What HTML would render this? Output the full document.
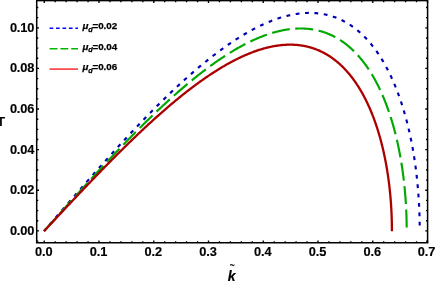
<!DOCTYPE html><html><head><meta charset="utf-8"><style>
html,body{margin:0;padding:0;background:#fff}
#c{position:relative;width:436px;height:284px;overflow:hidden;background:#fff;font-family:"Liberation Sans",sans-serif;font-weight:bold;color:#000}
.t{position:absolute;font-size:12.8px;line-height:14px;letter-spacing:-0.12px;white-space:nowrap;-webkit-text-stroke:0.15px #000}
.xl{width:40px;margin-left:-20px;text-align:center;top:245.3px}
.yl{right:401.7px;text-align:right}
.lg{left:82.4px;font-size:9.8px;line-height:10px;letter-spacing:-0.08px;-webkit-text-stroke:0.25px #000}
.lg i{font-style:italic}.lg sub{font-size:7.3px;font-style:italic;vertical-align:baseline;position:relative;top:2.6px}
</style></head><body><div id="c">
<svg width="436" height="284" viewBox="0 0 436 284" style="position:absolute;left:0;top:0">
<path d="M44.25,230.90 L45.23,229.76 L46.22,228.61 L47.20,227.47 L48.19,226.33 L49.17,225.18 L50.16,224.04 L51.14,222.90 L52.13,221.76 L53.11,220.61 L54.10,219.47 L55.08,218.33 L56.06,217.19 L57.05,216.05 L58.03,214.91 L59.02,213.77 L60.00,212.63 L60.98,211.49 L61.97,210.35 L62.95,209.21 L63.93,208.08 L64.92,206.94 L65.90,205.80 L66.88,204.67 L67.87,203.53 L68.85,202.40 L69.83,201.27 L70.81,200.14 L71.79,199.00 L72.78,197.87 L73.76,196.74 L74.74,195.61 L75.72,194.49 L76.70,193.36 L77.68,192.23 L78.66,191.11 L79.64,189.99 L80.62,188.86 L81.60,187.74 L82.58,186.62 L83.56,185.50 L84.54,184.39 L85.52,183.27 L86.50,182.16 L87.48,181.04 L88.46,179.93 L89.43,178.82 L90.41,177.71 L91.39,176.60 L92.36,175.50 L93.34,174.39 L94.32,173.29 L95.29,172.18 L96.27,171.08 L97.24,169.99 L98.22,168.89 L99.19,167.79 L100.17,166.70 L101.14,165.61 L102.11,164.52 L103.08,163.43 L104.06,162.34 L105.03,161.26 L106.00,160.18 L106.97,159.10 L107.94,158.02 L108.91,156.94 L109.88,155.87 L110.85,154.80 L111.82,153.73 L112.79,152.66 L113.76,151.59 L114.72,150.53 L115.69,149.47 L116.66,148.41 L117.62,147.35 L118.59,146.30 L119.55,145.24 L120.52,144.19 L121.48,143.14 L122.44,142.10 L123.41,141.06 L124.37,140.02 L125.33,138.98 L126.29,137.94 L127.25,136.91 L128.21,135.88 L129.17,134.85 L130.13,133.83 L131.09,132.81 L132.05,131.79 L133.00,130.77 L133.96,129.75 L134.92,128.74 L135.87,127.73 L136.83,126.73 L137.78,125.73 L138.73,124.73 L139.69,123.73 L140.64,122.74 L141.59,121.74 L142.54,120.76 L143.49,119.77 L144.44,118.79 L145.39,117.81 L146.34,116.83 L147.28,115.86 L148.23,114.89 L149.17,113.93 L150.12,112.96 L151.06,112.00 L152.01,111.05 L152.95,110.09 L153.89,109.14 L154.83,108.20 L155.77,107.25 L156.71,106.31 L157.65,105.38 L158.59,104.44 L159.53,103.51 L160.47,102.59 L161.40,101.67 L162.34,100.75 L163.27,99.83 L164.20,98.92 L165.14,98.01 L166.07,97.11 L167.00,96.21 L167.93,95.31 L168.86,94.42 L169.79,93.53 L170.71,92.64 L171.64,91.76 L172.57,90.88 L173.49,90.01 L174.42,89.14 L175.34,88.27 L176.26,87.41 L177.18,86.55 L178.10,85.69 L179.02,84.84 L179.94,84.00 L180.86,83.15 L181.78,82.32 L182.69,81.48 L183.61,80.65 L184.52,79.82 L185.43,79.00 L186.34,78.18 L187.26,77.37 L188.17,76.56 L189.07,75.76 L189.98,74.96 L190.89,74.16 L191.80,73.37 L192.70,72.58 L193.60,71.79 L194.51,71.02 L195.41,70.24 L196.31,69.47 L197.21,68.70 L198.11,67.94 L199.01,67.19 L199.90,66.43 L200.80,65.68 L201.69,64.94 L202.59,64.20 L203.48,63.47 L204.37,62.74 L205.26,62.01 L206.15,61.29 L207.04,60.58 L207.92,59.87 L208.81,59.16 L209.69,58.46 L210.58,57.76 L211.46,57.07 L212.34,56.38 L213.22,55.70 L214.10,55.02 L214.98,54.35 L215.85,53.68 L216.73,53.02 L217.60,52.36 L218.47,51.70 L219.35,51.06 L220.22,50.41 L221.09,49.77 L221.95,49.14 L222.82,48.51 L223.69,47.89 L224.55,47.27 L225.41,46.66 L226.27,46.05 L227.14,45.44 L227.99,44.85 L228.85,44.25 L229.71,43.66 L230.56,43.08 L231.42,42.50 L232.27,41.93 L233.12,41.36 L233.97,40.80 L234.82,40.25 L235.67,39.69 L236.52,39.15 L237.36,38.61 L238.21,38.07 L239.05,37.54 L239.89,37.02 L240.73,36.50 L241.57,35.98 L242.40,35.47 L243.24,34.97 L244.07,34.47 L244.91,33.98 L245.74,33.49 L246.57,33.01 L247.40,32.53 L248.23,32.06 L249.05,31.59 L249.88,31.13 L250.70,30.68 L251.52,30.23 L252.34,29.79 L253.16,29.35 L253.98,28.91 L254.79,28.49 L255.61,28.07 L256.42,27.65 L257.23,27.24 L258.04,26.83 L258.85,26.44 L259.66,26.04 L260.46,25.65 L261.27,25.27 L262.07,24.90 L262.87,24.52 L263.67,24.16 L264.47,23.80 L265.27,23.45 L266.06,23.10 L266.86,22.76 L267.65,22.42 L268.44,22.09 L269.23,21.76 L270.02,21.44 L270.80,21.13 L271.59,20.82 L272.37,20.52 L273.15,20.22 L273.93,19.93 L274.71,19.65 L275.48,19.37 L276.26,19.10 L277.03,18.83 L277.80,18.57 L278.58,18.31 L279.34,18.06 L280.11,17.82 L280.88,17.58 L281.64,17.35 L282.40,17.12 L283.16,16.90 L283.92,16.69 L284.68,16.48 L285.43,16.27 L286.19,16.08 L286.94,15.89 L287.69,15.70 L288.44,15.52 L289.19,15.35 L289.93,15.18 L290.67,15.02 L291.42,14.86 L292.16,14.72 L292.90,14.57 L293.63,14.43 L294.37,14.30 L295.10,14.18 L295.83,14.06 L296.56,13.94 L297.29,13.84 L298.02,13.73 L298.74,13.64 L299.47,13.55 L300.19,13.46 L300.91,13.39 L301.62,13.31 L302.34,13.25 L303.06,13.19 L303.77,13.13 L304.48,13.09 L305.19,13.04 L305.89,13.01 L306.60,12.98 L307.30,12.95 L308.00,12.94 L308.70,12.92 L309.40,12.92 L310.10,12.92 L310.79,12.92 L311.49,12.94 L312.18,12.95 L312.87,12.98 L313.55,13.01 L314.24,13.04 L314.92,13.09 L315.60,13.13 L316.28,13.19 L316.96,13.25 L317.64,13.31 L318.31,13.39 L318.98,13.46 L319.65,13.55 L320.32,13.64 L320.99,13.73 L321.65,13.84 L322.31,13.94 L322.98,14.06 L323.63,14.18 L324.29,14.30 L324.95,14.43 L325.60,14.57 L326.25,14.72 L326.90,14.86 L327.55,15.02 L328.19,15.18 L328.83,15.35 L329.48,15.52 L330.12,15.70 L330.75,15.89 L331.39,16.08 L332.02,16.27 L332.65,16.48 L333.28,16.69 L333.91,16.90 L334.54,17.12 L335.16,17.35 L335.78,17.58 L336.40,17.82 L337.02,18.06 L337.63,18.31 L338.25,18.57 L338.86,18.83 L339.47,19.10 L340.07,19.37 L340.68,19.65 L341.28,19.93 L341.88,20.22 L342.48,20.52 L343.08,20.82 L343.68,21.13 L344.27,21.44 L344.86,21.76 L345.45,22.09 L346.04,22.42 L346.62,22.76 L347.20,23.10 L347.78,23.45 L348.36,23.80 L348.94,24.16 L349.51,24.52 L350.09,24.90 L350.66,25.27 L351.22,25.65 L351.79,26.04 L352.35,26.44 L352.92,26.83 L353.48,27.24 L354.03,27.65 L354.59,28.07 L355.14,28.49 L355.69,28.91 L356.24,29.35 L356.79,29.79 L357.33,30.23 L357.88,30.68 L358.42,31.13 L358.95,31.59 L359.49,32.06 L360.02,32.53 L360.55,33.01 L361.08,33.49 L361.61,33.98 L362.14,34.47 L362.66,34.97 L363.18,35.47 L363.70,35.98 L364.22,36.50 L364.73,37.02 L365.24,37.54 L365.75,38.07 L366.26,38.61 L366.76,39.15 L367.27,39.69 L367.77,40.25 L368.27,40.80 L368.76,41.36 L369.26,41.93 L369.75,42.50 L370.24,43.08 L370.73,43.66 L371.21,44.25 L371.69,44.85 L372.18,45.44 L372.65,46.05 L373.13,46.66 L373.60,47.27 L374.08,47.89 L374.54,48.51 L375.01,49.14 L375.48,49.77 L375.94,50.41 L376.40,51.06 L376.86,51.70 L377.31,52.36 L377.77,53.02 L378.22,53.68 L378.67,54.35 L379.11,55.02 L379.56,55.70 L380.00,56.38 L380.44,57.07 L380.88,57.76 L381.31,58.46 L381.74,59.16 L382.17,59.87 L382.60,60.58 L383.03,61.29 L383.45,62.01 L383.87,62.74 L384.29,63.47 L384.71,64.20 L385.12,64.94 L385.53,65.68 L385.94,66.43 L386.35,67.19 L386.75,67.94 L387.16,68.70 L387.56,69.47 L387.95,70.24 L388.35,71.02 L388.74,71.79 L389.13,72.58 L389.52,73.37 L389.91,74.16 L390.29,74.96 L390.67,75.76 L391.05,76.56 L391.43,77.37 L391.80,78.18 L392.17,79.00 L392.54,79.82 L392.91,80.65 L393.27,81.48 L393.63,82.32 L393.99,83.15 L394.35,84.00 L394.70,84.84 L395.06,85.69 L395.41,86.55 L395.75,87.41 L396.10,88.27 L396.44,89.14 L396.78,90.01 L397.12,90.88 L397.45,91.76 L397.79,92.64 L398.12,93.53 L398.45,94.42 L398.77,95.31 L399.09,96.21 L399.41,97.11 L399.73,98.01 L400.05,98.92 L400.36,99.83 L400.67,100.75 L400.98,101.67 L401.29,102.59 L401.59,103.51 L401.89,104.44 L402.19,105.38 L402.49,106.31 L402.78,107.25 L403.07,108.20 L403.36,109.14 L403.65,110.09 L403.93,111.05 L404.21,112.00 L404.49,112.96 L404.77,113.93 L405.04,114.89 L405.31,115.86 L405.58,116.83 L405.85,117.81 L406.11,118.79 L406.37,119.77 L406.63,120.76 L406.89,121.74 L407.14,122.74 L407.39,123.73 L407.64,124.73 L407.89,125.73 L408.13,126.73 L408.38,127.73 L408.61,128.74 L408.85,129.75 L409.09,130.77 L409.32,131.79 L409.55,132.81 L409.77,133.83 L410.00,134.85 L410.22,135.88 L410.44,136.91 L410.65,137.94 L410.87,138.98 L411.08,140.02 L411.29,141.06 L411.49,142.10 L411.70,143.14 L411.90,144.19 L412.10,145.24 L412.29,146.30 L412.49,147.35 L412.68,148.41 L412.87,149.47 L413.05,150.53 L413.24,151.59 L413.42,152.66 L413.60,153.73 L413.77,154.80 L413.94,155.87 L414.12,156.94 L414.28,158.02 L414.45,159.10 L414.61,160.18 L414.77,161.26 L414.93,162.34 L415.09,163.43 L415.24,164.52 L415.39,165.61 L415.54,166.70 L415.68,167.79 L415.83,168.89 L415.97,169.99 L416.10,171.08 L416.24,172.18 L416.37,173.29 L416.50,174.39 L416.63,175.50 L416.75,176.60 L416.88,177.71 L417.00,178.82 L417.11,179.93 L417.23,181.04 L417.34,182.16 L417.45,183.27 L417.56,184.39 L417.66,185.50 L417.76,186.62 L417.86,187.74 L417.96,188.86 L418.05,189.99 L418.15,191.11 L418.23,192.23 L418.32,193.36 L418.40,194.49 L418.49,195.61 L418.56,196.74 L418.64,197.87 L418.71,199.00 L418.78,200.14 L418.85,201.27 L418.92,202.40 L418.98,203.53 L419.04,204.67 L419.10,205.80 L419.16,206.94 L419.21,208.08 L419.26,209.21 L419.31,210.35 L419.35,211.49 L419.40,212.63 L419.44,213.77 L419.47,214.91 L419.51,216.05 L419.54,217.19 L419.57,218.33 L419.60,219.47 L419.62,220.61 L419.64,221.76 L419.66,222.90 L419.68,224.04 L419.69,225.18 L419.70,226.33 L419.71,227.47 L419.72,228.61 L419.72,229.76 L419.73,230.90" fill="none" stroke="#0000b4" stroke-width="2.15" stroke-dasharray="3.8 5.6" stroke-dashoffset="1.3"/>
<path d="M44.25,230.90 L45.20,229.84 L46.15,228.78 L47.10,227.72 L48.05,226.65 L49.00,225.59 L49.95,224.53 L50.90,223.47 L51.85,222.41 L52.80,221.35 L53.75,220.29 L54.70,219.23 L55.65,218.17 L56.60,217.11 L57.55,216.05 L58.50,214.99 L59.45,213.94 L60.40,212.88 L61.35,211.82 L62.30,210.76 L63.25,209.71 L64.20,208.65 L65.15,207.60 L66.10,206.54 L67.05,205.49 L67.99,204.44 L68.94,203.39 L69.89,202.33 L70.84,201.28 L71.79,200.23 L72.73,199.18 L73.68,198.14 L74.63,197.09 L75.58,196.04 L76.52,195.00 L77.47,193.95 L78.42,192.91 L79.36,191.87 L80.31,190.83 L81.25,189.79 L82.20,188.75 L83.14,187.71 L84.09,186.67 L85.03,185.64 L85.98,184.61 L86.92,183.57 L87.87,182.54 L88.81,181.51 L89.75,180.48 L90.69,179.45 L91.64,178.43 L92.58,177.40 L93.52,176.38 L94.46,175.36 L95.40,174.34 L96.34,173.32 L97.28,172.30 L98.22,171.29 L99.16,170.28 L100.10,169.26 L101.04,168.25 L101.98,167.24 L102.92,166.24 L103.86,165.23 L104.79,164.23 L105.73,163.23 L106.67,162.23 L107.60,161.23 L108.54,160.24 L109.47,159.24 L110.41,158.25 L111.34,157.26 L112.28,156.27 L113.21,155.29 L114.14,154.30 L115.08,153.32 L116.01,152.34 L116.94,151.36 L117.87,150.39 L118.80,149.42 L119.73,148.45 L120.66,147.48 L121.59,146.51 L122.52,145.55 L123.44,144.59 L124.37,143.63 L125.30,142.67 L126.22,141.72 L127.15,140.77 L128.08,139.82 L129.00,138.87 L129.92,137.93 L130.85,136.98 L131.77,136.04 L132.69,135.11 L133.61,134.17 L134.53,133.24 L135.45,132.31 L136.37,131.39 L137.29,130.47 L138.21,129.55 L139.13,128.63 L140.05,127.71 L140.96,126.80 L141.88,125.89 L142.79,124.99 L143.71,124.08 L144.62,123.18 L145.53,122.29 L146.45,121.39 L147.36,120.50 L148.27,119.61 L149.18,118.73 L150.09,117.84 L151.00,116.97 L151.90,116.09 L152.81,115.22 L153.72,114.35 L154.62,113.48 L155.53,112.62 L156.43,111.76 L157.34,110.90 L158.24,110.05 L159.14,109.20 L160.04,108.35 L160.94,107.51 L161.84,106.67 L162.74,105.83 L163.64,105.00 L164.53,104.17 L165.43,103.35 L166.33,102.52 L167.22,101.70 L168.11,100.89 L169.01,100.08 L169.90,99.27 L170.79,98.46 L171.68,97.66 L172.57,96.87 L173.46,96.07 L174.35,95.28 L175.23,94.50 L176.12,93.71 L177.00,92.94 L177.89,92.16 L178.77,91.39 L179.65,90.62 L180.53,89.86 L181.41,89.10 L182.29,88.34 L183.17,87.59 L184.05,86.84 L184.93,86.10 L185.80,85.36 L186.67,84.63 L187.55,83.89 L188.42,83.17 L189.29,82.44 L190.16,81.72 L191.03,81.01 L191.90,80.30 L192.77,79.59 L193.64,78.89 L194.50,78.19 L195.37,77.49 L196.23,76.80 L197.09,76.12 L197.95,75.43 L198.81,74.76 L199.67,74.08 L200.53,73.41 L201.39,72.75 L202.24,72.09 L203.10,71.43 L203.95,70.78 L204.80,70.13 L205.66,69.49 L206.51,68.85 L207.36,68.22 L208.20,67.59 L209.05,66.97 L209.90,66.35 L210.74,65.73 L211.59,65.12 L212.43,64.51 L213.27,63.91 L214.11,63.31 L214.95,62.72 L215.79,62.13 L216.62,61.55 L217.46,60.97 L218.29,60.39 L219.13,59.82 L219.96,59.26 L220.79,58.70 L221.62,58.14 L222.45,57.59 L223.27,57.05 L224.10,56.51 L224.92,55.97 L225.75,55.44 L226.57,54.91 L227.39,54.39 L228.21,53.87 L229.03,53.36 L229.84,52.85 L230.66,52.35 L231.47,51.85 L232.29,51.36 L233.10,50.87 L233.91,50.39 L234.72,49.91 L235.53,49.44 L236.33,48.97 L237.14,48.51 L237.94,48.05 L238.75,47.60 L239.55,47.15 L240.35,46.71 L241.15,46.27 L241.94,45.84 L242.74,45.41 L243.53,44.99 L244.33,44.57 L245.12,44.16 L245.91,43.75 L246.70,43.35 L247.49,42.95 L248.27,42.56 L249.06,42.18 L249.84,41.80 L250.62,41.42 L251.40,41.05 L252.18,40.68 L252.96,40.32 L253.74,39.97 L254.51,39.62 L255.29,39.27 L256.06,38.94 L256.83,38.60 L257.60,38.27 L258.36,37.95 L259.13,37.63 L259.90,37.32 L260.66,37.01 L261.42,36.71 L262.18,36.41 L262.94,36.12 L263.70,35.84 L264.45,35.56 L265.21,35.28 L265.96,35.01 L266.71,34.75 L267.46,34.49 L268.21,34.23 L268.95,33.98 L269.70,33.74 L270.44,33.50 L271.18,33.27 L271.93,33.05 L272.66,32.83 L273.40,32.61 L274.14,32.40 L274.87,32.19 L275.60,32.00 L276.33,31.80 L277.06,31.61 L277.79,31.43 L278.52,31.25 L279.24,31.08 L279.96,30.92 L280.69,30.75 L281.41,30.60 L282.12,30.45 L282.84,30.30 L283.55,30.17 L284.27,30.03 L284.98,29.90 L285.69,29.78 L286.40,29.67 L287.10,29.55 L287.81,29.45 L288.51,29.35 L289.21,29.25 L289.91,29.17 L290.61,29.08 L291.31,29.00 L292.00,28.93 L292.69,28.87 L293.38,28.80 L294.07,28.75 L294.76,28.70 L295.45,28.65 L296.13,28.61 L296.81,28.58 L297.50,28.55 L298.17,28.53 L298.85,28.51 L299.53,28.50 L300.20,28.50 L300.87,28.50 L301.54,28.50 L302.21,28.51 L302.88,28.53 L303.54,28.55 L304.21,28.58 L304.87,28.61 L305.53,28.65 L306.19,28.70 L306.84,28.75 L307.50,28.80 L308.15,28.87 L308.80,28.93 L309.45,29.00 L310.09,29.08 L310.74,29.17 L311.38,29.25 L312.02,29.35 L312.66,29.45 L313.30,29.55 L313.94,29.67 L314.57,29.78 L315.20,29.90 L315.83,30.03 L316.46,30.17 L317.09,30.30 L317.71,30.45 L318.34,30.60 L318.96,30.75 L319.58,30.92 L320.19,31.08 L320.81,31.25 L321.42,31.43 L322.03,31.61 L322.64,31.80 L323.25,32.00 L323.86,32.19 L324.46,32.40 L325.06,32.61 L325.66,32.83 L326.26,33.05 L326.86,33.27 L327.45,33.50 L328.04,33.74 L328.63,33.98 L329.22,34.23 L329.81,34.49 L330.39,34.75 L330.98,35.01 L331.56,35.28 L332.13,35.56 L332.71,35.84 L333.29,36.12 L333.86,36.41 L334.43,36.71 L335.00,37.01 L335.56,37.32 L336.13,37.63 L336.69,37.95 L337.25,38.27 L337.81,38.60 L338.37,38.94 L338.92,39.27 L339.47,39.62 L340.02,39.97 L340.57,40.32 L341.12,40.68 L341.66,41.05 L342.20,41.42 L342.74,41.80 L343.28,42.18 L343.82,42.56 L344.35,42.95 L344.88,43.35 L345.41,43.75 L345.94,44.16 L346.47,44.57 L346.99,44.99 L347.51,45.41 L348.03,45.84 L348.55,46.27 L349.06,46.71 L349.58,47.15 L350.09,47.60 L350.60,48.05 L351.10,48.51 L351.61,48.97 L352.11,49.44 L352.61,49.91 L353.11,50.39 L353.61,50.87 L354.10,51.36 L354.59,51.85 L355.08,52.35 L355.57,52.85 L356.06,53.36 L356.54,53.87 L357.02,54.39 L357.50,54.91 L357.98,55.44 L358.45,55.97 L358.93,56.51 L359.40,57.05 L359.86,57.59 L360.33,58.14 L360.79,58.70 L361.26,59.26 L361.72,59.82 L362.17,60.39 L362.63,60.97 L363.08,61.55 L363.53,62.13 L363.98,62.72 L364.43,63.31 L364.87,63.91 L365.31,64.51 L365.75,65.12 L366.19,65.73 L366.63,66.35 L367.06,66.97 L367.49,67.59 L367.92,68.22 L368.35,68.85 L368.77,69.49 L369.19,70.13 L369.61,70.78 L370.03,71.43 L370.45,72.09 L370.86,72.75 L371.27,73.41 L371.68,74.08 L372.09,74.76 L372.49,75.43 L372.89,76.12 L373.29,76.80 L373.69,77.49 L374.08,78.19 L374.48,78.89 L374.87,79.59 L375.26,80.30 L375.64,81.01 L376.03,81.72 L376.41,82.44 L376.79,83.17 L377.16,83.89 L377.54,84.63 L377.91,85.36 L378.28,86.10 L378.65,86.84 L379.01,87.59 L379.38,88.34 L379.74,89.10 L380.10,89.86 L380.45,90.62 L380.81,91.39 L381.16,92.16 L381.51,92.94 L381.86,93.71 L382.20,94.50 L382.54,95.28 L382.88,96.07 L383.22,96.87 L383.56,97.66 L383.89,98.46 L384.22,99.27 L384.55,100.08 L384.87,100.89 L385.20,101.70 L385.52,102.52 L385.84,103.35 L386.15,104.17 L386.47,105.00 L386.78,105.83 L387.09,106.67 L387.40,107.51 L387.70,108.35 L388.00,109.20 L388.30,110.05 L388.60,110.90 L388.90,111.76 L389.19,112.62 L389.48,113.48 L389.77,114.35 L390.05,115.22 L390.34,116.09 L390.62,116.97 L390.90,117.84 L391.17,118.73 L391.45,119.61 L391.72,120.50 L391.99,121.39 L392.26,122.29 L392.52,123.18 L392.78,124.08 L393.04,124.99 L393.30,125.89 L393.55,126.80 L393.81,127.71 L394.06,128.63 L394.30,129.55 L394.55,130.47 L394.79,131.39 L395.03,132.31 L395.27,133.24 L395.51,134.17 L395.74,135.11 L395.97,136.04 L396.20,136.98 L396.42,137.93 L396.65,138.87 L396.87,139.82 L397.09,140.77 L397.30,141.72 L397.52,142.67 L397.73,143.63 L397.94,144.59 L398.14,145.55 L398.35,146.51 L398.55,147.48 L398.75,148.45 L398.95,149.42 L399.14,150.39 L399.33,151.36 L399.52,152.34 L399.71,153.32 L399.89,154.30 L400.07,155.29 L400.25,156.27 L400.43,157.26 L400.61,158.25 L400.78,159.24 L400.95,160.24 L401.12,161.23 L401.28,162.23 L401.44,163.23 L401.60,164.23 L401.76,165.23 L401.92,166.24 L402.07,167.24 L402.22,168.25 L402.37,169.26 L402.51,170.28 L402.65,171.29 L402.79,172.30 L402.93,173.32 L403.07,174.34 L403.20,175.36 L403.33,176.38 L403.46,177.40 L403.58,178.43 L403.71,179.45 L403.83,180.48 L403.95,181.51 L404.06,182.54 L404.17,183.57 L404.28,184.61 L404.39,185.64 L404.50,186.67 L404.60,187.71 L404.70,188.75 L404.80,189.79 L404.90,190.83 L404.99,191.87 L405.08,192.91 L405.17,193.95 L405.26,195.00 L405.34,196.04 L405.42,197.09 L405.50,198.14 L405.57,199.18 L405.65,200.23 L405.72,201.28 L405.79,202.33 L405.85,203.39 L405.92,204.44 L405.98,205.49 L406.04,206.54 L406.09,207.60 L406.15,208.65 L406.20,209.71 L406.25,210.76 L406.29,211.82 L406.33,212.88 L406.38,213.94 L406.41,214.99 L406.45,216.05 L406.48,217.11 L406.52,218.17 L406.54,219.23 L406.57,220.29 L406.59,221.35 L406.62,222.41 L406.63,223.47 L406.65,224.53 L406.66,225.59 L406.68,226.65 L406.68,227.72 L406.69,228.78 L406.69,229.84 L406.69,230.90" fill="none" stroke="#00a800" stroke-width="2.15" stroke-dasharray="18.0 5.5" stroke-dashoffset="0.6"/>
<path d="M43.91,231.27 L44.25,230.90 L45.16,229.92 L46.07,228.95 L46.99,227.97 L47.90,226.99 L48.81,226.02 L49.72,225.04 L50.63,224.06 L51.54,223.09 L52.45,222.11 L53.37,221.14 L54.28,220.16 L55.19,219.19 L56.10,218.21 L57.01,217.24 L57.92,216.26 L58.83,215.29 L59.74,214.32 L60.65,213.35 L61.57,212.37 L62.48,211.40 L63.39,210.43 L64.30,209.46 L65.21,208.49 L66.12,207.52 L67.03,206.55 L67.94,205.58 L68.85,204.62 L69.75,203.65 L70.66,202.68 L71.57,201.72 L72.48,200.75 L73.39,199.79 L74.30,198.83 L75.21,197.87 L76.11,196.91 L77.02,195.95 L77.93,194.99 L78.84,194.03 L79.74,193.07 L80.65,192.12 L81.56,191.16 L82.46,190.21 L83.37,189.26 L84.28,188.30 L85.18,187.35 L86.09,186.41 L86.99,185.46 L87.90,184.51 L88.80,183.57 L89.70,182.62 L90.61,181.68 L91.51,180.74 L92.41,179.80 L93.32,178.86 L94.22,177.92 L95.12,176.99 L96.02,176.05 L96.92,175.12 L97.83,174.19 L98.73,173.26 L99.63,172.33 L100.53,171.40 L101.43,170.48 L102.33,169.56 L103.22,168.64 L104.12,167.72 L105.02,166.80 L105.92,165.88 L106.81,164.97 L107.71,164.06 L108.61,163.14 L109.50,162.24 L110.40,161.33 L111.29,160.42 L112.19,159.52 L113.08,158.62 L113.97,157.72 L114.87,156.82 L115.76,155.93 L116.65,155.03 L117.54,154.14 L118.43,153.26 L119.32,152.37 L120.21,151.48 L121.10,150.60 L121.99,149.72 L122.88,148.84 L123.77,147.97 L124.66,147.09 L125.54,146.22 L126.43,145.35 L127.31,144.49 L128.20,143.62 L129.08,142.76 L129.97,141.90 L130.85,141.05 L131.73,140.19 L132.62,139.34 L133.50,138.49 L134.38,137.64 L135.26,136.80 L136.14,135.96 L137.02,135.12 L137.90,134.28 L138.77,133.45 L139.65,132.62 L140.53,131.79 L141.40,130.96 L142.28,130.14 L143.15,129.32 L144.03,128.50 L144.90,127.69 L145.77,126.88 L146.64,126.07 L147.51,125.26 L148.38,124.46 L149.25,123.66 L150.12,122.86 L150.99,122.07 L151.86,121.28 L152.72,120.49 L153.59,119.71 L154.45,118.92 L155.32,118.15 L156.18,117.37 L157.05,116.60 L157.91,115.83 L158.77,115.06 L159.63,114.30 L160.49,113.54 L161.35,112.78 L162.21,112.03 L163.06,111.28 L163.92,110.53 L164.77,109.79 L165.63,109.05 L166.48,108.31 L167.34,107.58 L168.19,106.85 L169.04,106.12 L169.89,105.40 L170.74,104.68 L171.59,103.96 L172.44,103.25 L173.28,102.54 L174.13,101.83 L174.97,101.13 L175.82,100.43 L176.66,99.74 L177.51,99.04 L178.35,98.36 L179.19,97.67 L180.03,96.99 L180.87,96.31 L181.70,95.64 L182.54,94.97 L183.38,94.31 L184.21,93.64 L185.05,92.99 L185.88,92.33 L186.71,91.68 L187.54,91.03 L188.37,90.39 L189.20,89.75 L190.03,89.12 L190.86,88.48 L191.68,87.86 L192.51,87.23 L193.33,86.61 L194.16,86.00 L194.98,85.39 L195.80,84.78 L196.62,84.18 L197.44,83.58 L198.26,82.98 L199.07,82.39 L199.89,81.80 L200.70,81.22 L201.52,80.64 L202.33,80.07 L203.14,79.49 L203.95,78.93 L204.76,78.37 L205.57,77.81 L206.38,77.25 L207.18,76.70 L207.99,76.16 L208.79,75.62 L209.59,75.08 L210.39,74.55 L211.19,74.02 L211.99,73.49 L212.79,72.97 L213.59,72.46 L214.38,71.95 L215.18,71.44 L215.97,70.94 L216.76,70.44 L217.55,69.95 L218.34,69.46 L219.13,68.97 L219.92,68.49 L220.71,68.02 L221.49,67.55 L222.28,67.08 L223.06,66.62 L223.84,66.16 L224.62,65.71 L225.40,65.26 L226.18,64.81 L226.95,64.37 L227.73,63.94 L228.50,63.51 L229.27,63.08 L230.04,62.66 L230.81,62.25 L231.58,61.83 L232.35,61.43 L233.12,61.02 L233.88,60.63 L234.64,60.23 L235.41,59.84 L236.17,59.46 L236.93,59.08 L237.69,58.71 L238.44,58.34 L239.20,57.97 L239.95,57.61 L240.70,57.26 L241.46,56.91 L242.21,56.56 L242.96,56.22 L243.70,55.88 L244.45,55.55 L245.19,55.23 L245.94,54.90 L246.68,54.59 L247.42,54.27 L248.16,53.97 L248.90,53.67 L249.63,53.37 L250.37,53.08 L251.10,52.79 L251.83,52.50 L252.56,52.23 L253.29,51.95 L254.02,51.69 L254.75,51.42 L255.47,51.16 L256.19,50.91 L256.92,50.66 L257.64,50.42 L258.36,50.18 L259.07,49.95 L259.79,49.72 L260.50,49.50 L261.22,49.28 L261.93,49.06 L262.64,48.86 L263.35,48.65 L264.06,48.45 L264.76,48.26 L265.46,48.07 L266.17,47.89 L266.87,47.71 L267.57,47.54 L268.27,47.37 L268.96,47.21 L269.66,47.05 L270.35,46.90 L271.04,46.75 L271.73,46.60 L272.42,46.47 L273.11,46.33 L273.79,46.21 L274.48,46.08 L275.16,45.97 L275.84,45.85 L276.52,45.75 L277.20,45.64 L277.87,45.55 L278.55,45.45 L279.22,45.37 L279.89,45.29 L280.56,45.21 L281.23,45.14 L281.90,45.07 L282.56,45.01 L283.22,44.95 L283.88,44.90 L284.54,44.86 L285.20,44.81 L285.86,44.78 L286.51,44.75 L287.17,44.72 L287.82,44.70 L288.47,44.69 L289.12,44.68 L289.76,44.67 L290.41,44.67 L291.05,44.68 L291.69,44.69 L292.33,44.70 L292.97,44.72 L293.60,44.75 L294.24,44.78 L294.87,44.81 L295.50,44.86 L296.13,44.90 L296.76,44.95 L297.39,45.01 L298.01,45.07 L298.63,45.14 L299.25,45.21 L299.87,45.29 L300.49,45.37 L301.10,45.45 L301.72,45.55 L302.33,45.64 L302.94,45.75 L303.55,45.85 L304.15,45.97 L304.76,46.08 L305.36,46.21 L305.96,46.33 L306.56,46.47 L307.16,46.60 L307.75,46.75 L308.35,46.90 L308.94,47.05 L309.53,47.21 L310.12,47.37 L310.71,47.54 L311.29,47.71 L311.87,47.89 L312.45,48.07 L313.03,48.26 L313.61,48.45 L314.19,48.65 L314.76,48.86 L315.33,49.06 L315.90,49.28 L316.47,49.50 L317.04,49.72 L317.60,49.95 L318.16,50.18 L318.72,50.42 L319.28,50.66 L319.84,50.91 L320.39,51.16 L320.95,51.42 L321.50,51.69 L322.05,51.95 L322.59,52.23 L323.14,52.50 L323.68,52.79 L324.22,53.08 L324.76,53.37 L325.30,53.67 L325.84,53.97 L326.37,54.27 L326.90,54.59 L327.43,54.90 L327.96,55.23 L328.49,55.55 L329.01,55.88 L329.53,56.22 L330.05,56.56 L330.57,56.91 L331.09,57.26 L331.60,57.61 L332.11,57.97 L332.62,58.34 L333.13,58.71 L333.64,59.08 L334.14,59.46 L334.64,59.84 L335.14,60.23 L335.64,60.63 L336.14,61.02 L336.63,61.43 L337.12,61.83 L337.62,62.25 L338.10,62.66 L338.59,63.08 L339.07,63.51 L339.56,63.94 L340.04,64.37 L340.51,64.81 L340.99,65.26 L341.46,65.71 L341.94,66.16 L342.41,66.62 L342.87,67.08 L343.34,67.55 L343.80,68.02 L344.27,68.49 L344.72,68.97 L345.18,69.46 L345.64,69.95 L346.09,70.44 L346.54,70.94 L346.99,71.44 L347.44,71.95 L347.88,72.46 L348.33,72.97 L348.77,73.49 L349.21,74.02 L349.64,74.55 L350.08,75.08 L350.51,75.62 L350.94,76.16 L351.37,76.70 L351.80,77.25 L352.22,77.81 L352.64,78.37 L353.06,78.93 L353.48,79.49 L353.90,80.07 L354.31,80.64 L354.72,81.22 L355.13,81.80 L355.54,82.39 L355.94,82.98 L356.34,83.58 L356.74,84.18 L357.14,84.78 L357.54,85.39 L357.93,86.00 L358.33,86.61 L358.72,87.23 L359.10,87.86 L359.49,88.48 L359.87,89.12 L360.25,89.75 L360.63,90.39 L361.01,91.03 L361.38,91.68 L361.76,92.33 L362.13,92.99 L362.49,93.64 L362.86,94.31 L363.22,94.97 L363.59,95.64 L363.95,96.31 L364.30,96.99 L364.66,97.67 L365.01,98.36 L365.36,99.04 L365.71,99.74 L366.06,100.43 L366.40,101.13 L366.74,101.83 L367.08,102.54 L367.42,103.25 L367.75,103.96 L368.09,104.68 L368.42,105.40 L368.74,106.12 L369.07,106.85 L369.39,107.58 L369.72,108.31 L370.04,109.05 L370.35,109.79 L370.67,110.53 L370.98,111.28 L371.29,112.03 L371.60,112.78 L371.91,113.54 L372.21,114.30 L372.51,115.06 L372.81,115.83 L373.11,116.60 L373.40,117.37 L373.69,118.15 L373.98,118.92 L374.27,119.71 L374.56,120.49 L374.84,121.28 L375.12,122.07 L375.40,122.86 L375.68,123.66 L375.95,124.46 L376.22,125.26 L376.49,126.07 L376.76,126.88 L377.02,127.69 L377.29,128.50 L377.55,129.32 L377.81,130.14 L378.06,130.96 L378.32,131.79 L378.57,132.62 L378.82,133.45 L379.06,134.28 L379.31,135.12 L379.55,135.96 L379.79,136.80 L380.03,137.64 L380.26,138.49 L380.49,139.34 L380.73,140.19 L380.95,141.05 L381.18,141.90 L381.40,142.76 L381.62,143.62 L381.84,144.49 L382.06,145.35 L382.27,146.22 L382.49,147.09 L382.70,147.97 L382.90,148.84 L383.11,149.72 L383.31,150.60 L383.51,151.48 L383.71,152.37 L383.91,153.26 L384.10,154.14 L384.29,155.03 L384.48,155.93 L384.66,156.82 L384.85,157.72 L385.03,158.62 L385.21,159.52 L385.39,160.42 L385.56,161.33 L385.73,162.24 L385.90,163.14 L386.07,164.06 L386.24,164.97 L386.40,165.88 L386.56,166.80 L386.72,167.72 L386.87,168.64 L387.03,169.56 L387.18,170.48 L387.33,171.40 L387.47,172.33 L387.62,173.26 L387.76,174.19 L387.90,175.12 L388.04,176.05 L388.17,176.99 L388.30,177.92 L388.43,178.86 L388.56,179.80 L388.69,180.74 L388.81,181.68 L388.93,182.62 L389.05,183.57 L389.16,184.51 L389.28,185.46 L389.39,186.41 L389.49,187.35 L389.60,188.30 L389.70,189.26 L389.81,190.21 L389.90,191.16 L390.00,192.12 L390.10,193.07 L390.19,194.03 L390.28,194.99 L390.36,195.95 L390.45,196.91 L390.53,197.87 L390.61,198.83 L390.69,199.79 L390.76,200.75 L390.84,201.72 L390.91,202.68 L390.98,203.65 L391.04,204.62 L391.10,205.58 L391.17,206.55 L391.22,207.52 L391.28,208.49 L391.33,209.46 L391.39,210.43 L391.43,211.40 L391.48,212.37 L391.53,213.35 L391.57,214.32 L391.61,215.29 L391.64,216.26 L391.68,217.24 L391.71,218.21 L391.74,219.19 L391.77,220.16 L391.79,221.14 L391.82,222.11 L391.84,223.09 L391.85,224.06 L391.87,225.04 L391.88,226.02 L391.89,226.99 L391.90,227.97 L391.91,228.95 L391.91,229.92 L391.91,230.90 L391.91,231.30" fill="none" stroke="#ac0000" stroke-width="2.3"/>
<rect x="36.7" y="0.6" width="390.90000000000003" height="242.15" fill="none" stroke="#000" stroke-width="1.5"/>
<path d="M44.25,242.75v-2.3M44.25,0.6v2.3M55.20,242.75v-1.6M55.20,0.6v1.6M66.15,242.75v-1.6M66.15,0.6v1.6M77.10,242.75v-1.6M77.10,0.6v1.6M88.05,242.75v-1.6M88.05,0.6v1.6M99.00,242.75v-2.3M99.00,0.6v2.3M109.95,242.75v-1.6M109.95,0.6v1.6M120.90,242.75v-1.6M120.90,0.6v1.6M131.85,242.75v-1.6M131.85,0.6v1.6M142.80,242.75v-1.6M142.80,0.6v1.6M153.75,242.75v-2.3M153.75,0.6v2.3M164.70,242.75v-1.6M164.70,0.6v1.6M175.65,242.75v-1.6M175.65,0.6v1.6M186.60,242.75v-1.6M186.60,0.6v1.6M197.55,242.75v-1.6M197.55,0.6v1.6M208.50,242.75v-2.3M208.50,0.6v2.3M219.45,242.75v-1.6M219.45,0.6v1.6M230.40,242.75v-1.6M230.40,0.6v1.6M241.35,242.75v-1.6M241.35,0.6v1.6M252.30,242.75v-1.6M252.30,0.6v1.6M263.25,242.75v-2.3M263.25,0.6v2.3M274.20,242.75v-1.6M274.20,0.6v1.6M285.15,242.75v-1.6M285.15,0.6v1.6M296.10,242.75v-1.6M296.10,0.6v1.6M307.05,242.75v-1.6M307.05,0.6v1.6M318.00,242.75v-2.3M318.00,0.6v2.3M328.95,242.75v-1.6M328.95,0.6v1.6M339.90,242.75v-1.6M339.90,0.6v1.6M350.85,242.75v-1.6M350.85,0.6v1.6M361.80,242.75v-1.6M361.80,0.6v1.6M372.75,242.75v-2.3M372.75,0.6v2.3M383.70,242.75v-1.6M383.70,0.6v1.6M394.65,242.75v-1.6M394.65,0.6v1.6M405.60,242.75v-1.6M405.60,0.6v1.6M416.55,242.75v-1.6M416.55,0.6v1.6M427.50,242.75v-2.3M427.50,0.6v2.3M36.7,241.06h1.6M427.6,241.06h-1.6M36.7,230.90h2.3M427.6,230.90h-2.3M36.7,220.75h1.6M427.6,220.75h-1.6M36.7,210.59h1.6M427.6,210.59h-1.6M36.7,200.44h1.6M427.6,200.44h-1.6M36.7,190.28h2.3M427.6,190.28h-2.3M36.7,180.12h1.6M427.6,180.12h-1.6M36.7,169.97h1.6M427.6,169.97h-1.6M36.7,159.81h1.6M427.6,159.81h-1.6M36.7,149.66h2.3M427.6,149.66h-2.3M36.7,139.50h1.6M427.6,139.50h-1.6M36.7,129.35h1.6M427.6,129.35h-1.6M36.7,119.20h1.6M427.6,119.20h-1.6M36.7,109.04h2.3M427.6,109.04h-2.3M36.7,98.88h1.6M427.6,98.88h-1.6M36.7,88.73h1.6M427.6,88.73h-1.6M36.7,78.58h1.6M427.6,78.58h-1.6M36.7,68.42h2.3M427.6,68.42h-2.3M36.7,58.26h1.6M427.6,58.26h-1.6M36.7,48.11h1.6M427.6,48.11h-1.6M36.7,37.96h1.6M427.6,37.96h-1.6M36.7,27.80h2.3M427.6,27.80h-2.3M36.7,17.65h1.6M427.6,17.65h-1.6M36.7,7.49h1.6M427.6,7.49h-1.6" stroke="#000" stroke-width="1.35" fill="none"/>
<path d="M49.6,28.3H78" stroke="#0000ff" stroke-width="1.45" stroke-dasharray="3.65 2.8" fill="none"/>
<path d="M49.6,48.7H78" stroke="#00b400" stroke-width="1.45" stroke-dasharray="7.9 2.9" fill="none"/>
<path d="M49.6,69.1H78" stroke="#ff2428" stroke-width="1.45" fill="none"/>
</svg>
<div class="t xl" style="left:43.75px">0.0</div>
<div class="t xl" style="left:98.50px">0.1</div>
<div class="t xl" style="left:153.25px">0.2</div>
<div class="t xl" style="left:208.00px">0.3</div>
<div class="t xl" style="left:262.75px">0.4</div>
<div class="t xl" style="left:317.50px">0.5</div>
<div class="t xl" style="left:372.25px">0.6</div>
<div class="t xl" style="left:426.50px">0.7</div>
<div class="t yl" style="top:223.90px">0.00</div>
<div class="t yl" style="top:183.28px">0.02</div>
<div class="t yl" style="top:142.66px">0.04</div>
<div class="t yl" style="top:102.04px">0.06</div>
<div class="t yl" style="top:61.42px">0.08</div>
<div class="t yl" style="top:20.80px">0.10</div>
<div class="t" style="left:0;top:115.0px;font-size:12px;width:5.3px;overflow:hidden"><span style="margin-left:-0.8px">Γ</span></div>
<div class="t" style="left:227.7px;top:267.8px;font-style:italic;font-size:14px;line-height:16px">k</div>
<div class="t" style="left:229.7px;top:260.1px;font-size:8.5px;line-height:10px">~</div>
<div class="t lg" style="top:21.2px"><i>μ</i><sub>d</sub>=0.02</div>
<div class="t lg" style="top:41.6px"><i>μ</i><sub>d</sub>=0.04</div>
<div class="t lg" style="top:62.0px"><i>μ</i><sub>d</sub>=0.06</div>
</div></body></html>
